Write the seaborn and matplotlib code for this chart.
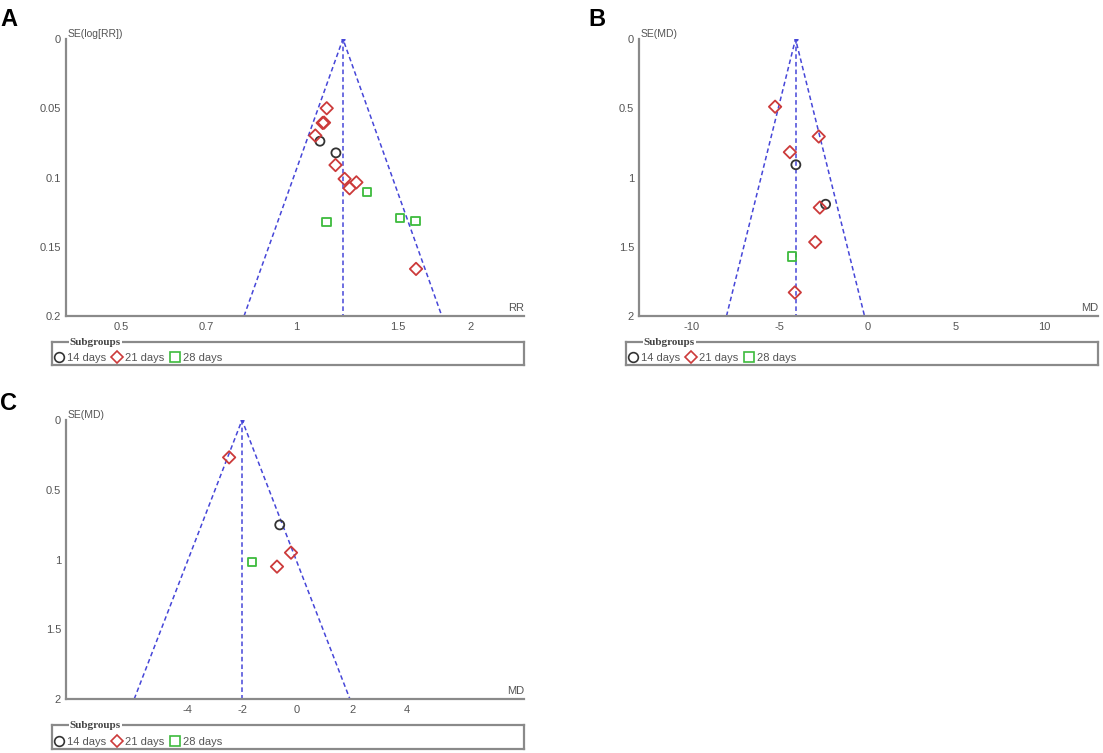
import numpy as np
import pandas as pd
import matplotlib
matplotlib.use("Agg")
import matplotlib.pyplot as plt
from matplotlib.lines import Line2D
import seaborn as sns

# ---- data ----
groups = ["14 days", "21 days", "28 days"]

# A: risk ratio vs SE(log RR)
a_rr = [1.10, 1.172, 1.13, 1.112, 1.118, 1.08, 1.17, 1.213, 1.271, 1.237, 1.61,
        1.327, 1.129, 1.509, 1.606]
a_se = [0.0738, 0.0822, 0.050, 0.0606, 0.0604, 0.0697, 0.091, 0.101, 0.1035, 0.1078, 0.166,
        0.1107, 0.132, 0.1293, 0.1315]
a_grp = ["14 days"] * 2 + ["21 days"] * 9 + ["28 days"] * 4
a_pooled = 1.205

# B: mean difference vs SE(MD)
b_md = [-4.09, -2.40, -5.27, -2.79, -4.43, -2.73, -2.99, -4.15, -4.31]
b_se = [0.908, 1.193, 0.489, 0.704, 0.817, 1.217, 1.466, 1.83, 1.571]
b_grp = ["14 days"] * 2 + ["21 days"] * 6 + ["28 days"]
b_pooled = -4.11

# C: mean difference vs SE(MD)
c_md = [-0.63, -2.47, -0.22, -0.73, -1.64]
c_se = [0.752, 0.268, 0.951, 1.051, 1.02]
c_grp = ["14 days"] + ["21 days"] * 3 + ["28 days"]
c_pooled = -2.0

markers = {"14 days": "o", "21 days": "D", "28 days": "s"}
msizes = {"14 days": 42, "21 days": 40, "28 days": 36}
colors = {"14 days": "#333333", "21 days": "#cc3a3a", "28 days": "#3dbb3d"}
funnel_color = "#4646d8"
axis_grey = "#8a8a8a"
text_grey = "#555555"

sns.set_style("white")
plt.rcParams["font.family"] = ["Liberation Sans", "DejaVu Sans"]

W, H = 1103, 753
fig = plt.figure(figsize=(W / 100, H / 100), dpi=100)


def px_box(x0, y0, x1, y1):
    return [x0 / W, 1 - y1 / H, (x1 - x0) / W, (y1 - y0) / H]


def funnel(ax, pooled, se_max, log=False):
    if log:
        c = np.log(pooled)
        xs = np.exp([c - 1.96 * se_max, c, c + 1.96 * se_max])
    else:
        xs = [pooled - 1.96 * se_max, pooled, pooled + 1.96 * se_max]
    ax.plot(xs, [se_max, 0, se_max], ls=(0, (3, 2)), color=funnel_color, lw=1.1, zorder=1)
    ax.plot([pooled, pooled], [0, se_max], ls=(0, (3, 2)), color=funnel_color, lw=1.1, zorder=1)
    ax.plot([pooled], [0], marker="o", ms=2, color=funnel_color, zorder=1)


def points(ax, x, y, grp):
    df = pd.DataFrame({"x": x, "se": y, "group": grp})
    for g in groups:
        sub = df[df["group"] == g]
        sns.scatterplot(data=sub, x="x", y="se", ax=ax, marker=markers[g],
                        s=msizes[g], color=colors[g], legend=False, zorder=3)
        coll = ax.collections[-1]
        coll.set_facecolor("none")
        coll.set_edgecolor(colors[g])
        coll.set_linewidth(1.3)


def style_axes(ax, ymax, yticks, xticks, xlim, ylab, xlab):
    ax.set_ylim(ymax, 0)
    ax.set_xlim(*xlim)
    ax.set_yticks(yticks)
    ax.set_yticklabels(["{:g}".format(t) for t in yticks])
    ax.set_xticks(xticks)
    ax.set_xticklabels(["{:g}".format(t) for t in xticks])
    ax.minorticks_off()
    for s in ["top", "right"]:
        ax.spines[s].set_visible(False)
    for s in ["left", "bottom"]:
        ax.spines[s].set_color(axis_grey)
        ax.spines[s].set_linewidth(1.6)
    ax.tick_params(axis="y", direction="inout", length=7, width=1.2, color=axis_grey,
                   labelsize=8, labelcolor=text_grey, pad=0)
    ax.tick_params(axis="x", direction="inout", length=7, width=1.2, color=axis_grey,
                   labelsize=8, labelcolor=text_grey, pad=1)
    ax.set_xlabel("")
    ax.set_ylabel("")
    ax.text(0.004, 1.0, ylab, transform=ax.transAxes, ha="left", va="bottom",
            fontsize=7.5, color=text_grey)
    ax.text(1.0, 0.012, xlab, transform=ax.transAxes, ha="right", va="bottom",
            fontsize=8, color=text_grey)
    ax.patch.set_alpha(0)


def legend_box(box):
    lax = fig.add_axes(box)
    lax.set_xticks([])
    lax.set_yticks([])
    for s in lax.spines.values():
        s.set_color(axis_grey)
        s.set_linewidth(1.6)
        s.set_visible(True)
    lax.text(0.038, 1.0, "Subgroups", transform=lax.transAxes, ha="left", va="center",
             fontsize=8, fontweight="bold", family=["Liberation Serif", "DejaVu Serif"],
             color="#444444",
             bbox=dict(facecolor="white", edgecolor="none", pad=0.5))
    handles = [Line2D([], [], ls="none", marker=markers[g], mfc="none", mec=colors[g],
                      mew=1.2, ms=7 if g != "21 days" else 6.5) for g in groups]
    leg = lax.legend(handles, groups, loc="lower left", ncol=3, frameon=False,
                     fontsize=8, handlelength=0.9, handletextpad=0.3,
                     columnspacing=0.5, borderaxespad=0.05, borderpad=0.1)
    for t in leg.get_texts():
        t.set_color(text_grey)


# Panel A
axA = fig.add_axes(px_box(66, 39, 524, 316))
axA.set_xscale("log")
funnel(axA, a_pooled, 0.2, log=True)
points(axA, a_rr, a_se, a_grp)
style_axes(axA, 0.2, [0, 0.05, 0.1, 0.15, 0.2], [0.5, 0.7, 1, 1.5, 2],
           (0.402, 2.47), "SE(log[RR])", "RR")
legend_box(px_box(52, 342, 524, 365))

# Panel B
axB = fig.add_axes(px_box(639, 39, 1098, 316))
funnel(axB, b_pooled, 2)
points(axB, b_md, b_se, b_grp)
style_axes(axB, 2, [0, 0.5, 1, 1.5, 2], [-10, -5, 0, 5, 10],
           (-13.0, 13.07), "SE(MD)", "MD")
legend_box(px_box(626, 342, 1098, 365))

# Panel C
axC = fig.add_axes(px_box(66, 420, 524, 699))
funnel(axC, c_pooled, 2)
points(axC, c_md, c_se, c_grp)
style_axes(axC, 2, [0, 0.5, 1, 1.5, 2], [-4, -2, 0, 2, 4],
           (-8.4, 8.25), "SE(MD)", "MD")
legend_box(px_box(52, 725, 524, 749))

for letter, x, y in [("A", 0, 8), ("B", 588, 8), ("C", 0, 392)]:
    fig.text(x / W, 1 - y / H, letter, ha="left", va="top", fontsize=17,
             fontweight="bold", color="black")

fig.savefig("out.png", dpi=100)
